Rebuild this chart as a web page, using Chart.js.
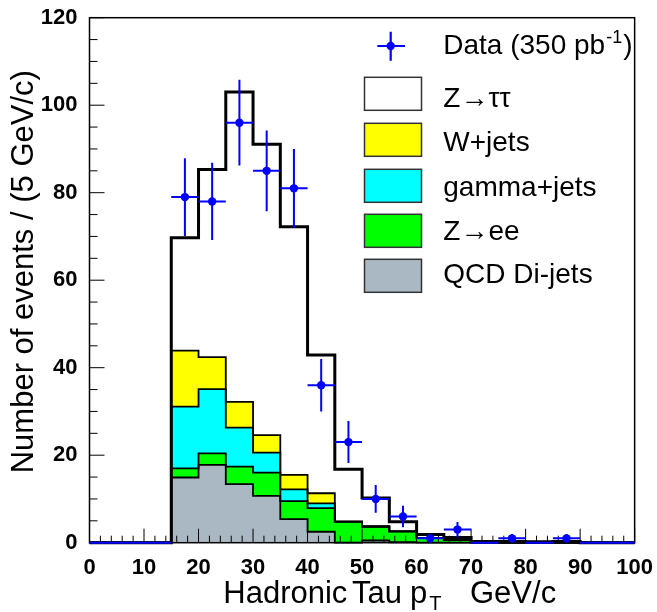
<!DOCTYPE html>
<html><head><meta charset="utf-8">
<script src="https://cdn.jsdelivr.net/npm/chart.js@4.4.1/dist/chart.umd.min.js"></script>
<style>html,body{margin:0;padding:0;background:#fff;} #c{display:block;}</style>
</head><body>
<canvas id="c" width="657" height="612" style="width:657px;height:612px"></canvas>
<script>
// ---- data (bins of 5 GeV/c, lower edges) ----
const binLow = [0,5,10,15,20,25,30,35,40,45,50,55,60,65,70,75,80,85,90,95];
const binWidth = 5;
const dataCounts = [0,0,0,79,78,96,85,81,36,23,10,6,1,3,0,1,0,1,0,0];
const qcdDijets  = [0,0,0,14.9,17.8,13.4,10.7,5.4,2.5,0,0.5,0.1,0,0,0,0,0,0,0,0];
const zee        = [0,0,0,2.1,2.6,4.0,5.3,4.1,5.4,4.8,3.2,2.5,1.1,0.6,0.1,0,0,0,0,0];
const gammaJets  = [0,0,0,14.1,14.7,8.9,4.6,2.7,1.1,0,0,0,0,0,0,0,0,0,0,0];
const wJets      = [0,0,0,12.8,7.3,5.9,4.0,3.3,2.3,0,0,0,0,0,0,0,0,0,0,0];
const ztautau    = [0,0,0,25.8,42.9,70.8,66.5,56.7,31.6,12.0,6.5,2.2,0.8,0.6,0.2,0.3,0.2,0.3,0,0];
const xRange = [0,100], xStep = 10, xMinor = 2;
const yRange = [0,120], yStep = 20, yMinor = 5;

const FONT = '"Liberation Sans", Arial, Helvetica, sans-serif';
const BLUE = '#0000ff';

// cumulative stacks (bottom -> top)
const layers = [qcdDijets, zee, gammaJets, wJets, ztautau];
const cum = [];
layers.forEach((arr, k) => cum.push(arr.map((v, i) => v + (k ? cum[k-1][i] : 0))));

function histPoints(vals) {
  const pts = [];
  binLow.forEach((lo, i) => { pts.push({x: lo, y: vals[i]}, {x: lo + binWidth, y: vals[i]}); });
  return pts;
}
const errPts = [];
const markerPts = [];
binLow.forEach((lo, i) => {
  const n = dataCounts[i], mid = lo + binWidth / 2;
  errPts.push({x: lo, y: n}, {x: lo + binWidth, y: n}, {x: mid, y: null});
  if (n > 0) {
    const e = Math.sqrt(n);
    errPts.push({x: mid, y: n - e}, {x: mid, y: n + e}, {x: mid, y: null});
    markerPts.push({x: mid, y: n});
  }
});

const fills = ['#a9b8c2', '#00ff00', '#00ffff', '#ffff00', '#ffffff'];
// dataset order: top layer first; each layer fills down to the next dataset (+1)
const histDatasets = cum.map((c, k) => ({
  type: 'line', data: histPoints(c), borderColor: '#000', borderWidth: k === 4 ? 3 : 1.8,
  backgroundColor: fills[k], fill: k === 0 ? 'origin' : '+1', pointRadius: 0, tension: 0, clip: false
})).reverse();

const decorPlugin = {
  id: 'decor',
  beforeDatasetsDraw(chart) {
    const {ctx, chartArea: a, scales: {x, y}} = chart;
    ctx.save();
    ctx.strokeStyle = '#000'; ctx.lineWidth = 1;
    ctx.beginPath();
    for (let v = xRange[0]; v <= xRange[1] + 1e-9; v += xMinor) {
      const px = x.getPixelForValue(v), len = (v % xStep === 0) ? 14 : 7;
      ctx.moveTo(px, a.bottom); ctx.lineTo(px, a.bottom - len);
    }
    for (let v = yRange[0]; v <= yRange[1] + 1e-9; v += yMinor) {
      const py = y.getPixelForValue(v), len = (v % yStep === 0) ? 15 : 8;
      ctx.moveTo(a.left, py); ctx.lineTo(a.left + len, py);
    }
    ctx.stroke();
    ctx.lineWidth = 1.5;
    ctx.strokeRect(a.left, a.top, a.right - a.left, a.bottom - a.top);
    ctx.restore();
  },
  afterDraw(chart) {
    const ctx = chart.ctx;
    ctx.save();
    ctx.fillStyle = '#000';
    // x title
    ctx.textBaseline = 'alphabetic'; ctx.textAlign = 'left';
    const big = '31px ' + FONT;
    ctx.font = big;
    ctx.fillText('Hadronic', 223.3, 602.7);
    ctx.fillText('Tau', 352, 602.7);
    ctx.fillText('p', 410, 602.7);
    const pw = ctx.measureText('p').width;
    ctx.font = '20px ' + FONT; ctx.fillText('T', 410 + pw + 2, 610);
    ctx.font = big; ctx.fillText('GeV/c', 470, 602.7);
    // y title
    ctx.save();
    ctx.translate(33.3, 473.3); ctx.rotate(-Math.PI / 2);
    ctx.font = '31px ' + FONT; ctx.textAlign = 'left';
    ctx.fillText('Number of events / (5 GeV/c)', 0, 0);
    ctx.restore();
    // legend
    ctx.textAlign = 'left';
    ctx.strokeStyle = BLUE; ctx.lineWidth = 2.2;
    ctx.beginPath(); ctx.moveTo(377.3, 46); ctx.lineTo(405, 46); ctx.moveTo(390.7, 31.7); ctx.lineTo(390.7, 60.7); ctx.stroke();
    ctx.fillStyle = BLUE; ctx.beginPath(); ctx.arc(390.7, 46, 4.2, 0, 2 * Math.PI); ctx.fill();
    ctx.fillStyle = '#000';
    ctx.font = '28px ' + FONT;
    let lx = 443.3;
    const t1 = 'Data (350 pb';
    ctx.fillText(t1, lx, 54.3); lx += ctx.measureText(t1).width + 1;
    ctx.font = '18px ' + FONT; ctx.fillText('-1', lx, 43); lx += ctx.measureText('-1').width + 1;
    ctx.font = '28px ' + FONT; ctx.fillText(')', lx, 54.3);
    const entries = [
      {label: 'Z\u2192\u03c4\u03c4', color: fills[4], top: 77.3, base: 107.3},
      {label: 'W+jets', color: fills[3], top: 123.3, base: 150.7},
      {label: 'gamma+jets', color: fills[2], top: 169.3, base: 195.5},
      {label: 'Z\u2192ee', color: fills[1], top: 214.3, base: 240},
      {label: 'QCD Di-jets', color: fills[0], top: 259.3, base: 283.3}
    ];
    entries.forEach(e => {
      ctx.fillStyle = e.color; ctx.fillRect(364.5, e.top, 57, 33);
      ctx.strokeStyle = '#333'; ctx.lineWidth = 1.5; ctx.strokeRect(364.5, e.top, 57, 33);
      ctx.fillStyle = '#000'; ctx.font = '28px ' + FONT; ctx.fillText(e.label, 443.3, e.base);
    });
    ctx.restore();
  }
};

new Chart(document.getElementById('c'), {
  type: 'line',
  data: {
    datasets: [
      {type: 'line', data: markerPts, showLine: false, pointRadius: 4.2, pointBackgroundColor: BLUE, pointBorderWidth: 0, pointHoverRadius: 4.2, clip: false},
      {type: 'line', data: errPts, borderColor: BLUE, borderWidth: 2, pointRadius: 0, spanGaps: false, fill: false, tension: 0, clip: false},
      ...histDatasets
    ]
  },
  options: {
    responsive: false, animation: false, events: [],
    layout: {padding: {left: 0, top: 17.7, right: 20.3, bottom: 0}},
    plugins: {legend: {display: false}, tooltip: {enabled: false}, filler: {drawTime: 'beforeDatasetsDraw'}},
    scales: {
      x: {type: 'linear', min: xRange[0], max: xRange[1], grid: {display: false}, border: {display: false},
          ticks: {stepSize: xStep, autoSkip: false, maxRotation: 0, color: '#000', padding: 4, font: {family: FONT, size: 22, weight: 'bold'}},
          afterFit(s) { s.height = 69.3; }},
      y: {type: 'linear', min: yRange[0], max: yRange[1], grid: {display: false}, border: {display: false},
          ticks: {stepSize: yStep, color: '#000', padding: 4, font: {family: FONT, size: 22, weight: 'bold'}},
          afterFit(s) { s.width = 89.5; }}
    }
  },
  plugins: [decorPlugin]
});
</script>
</body></html>
